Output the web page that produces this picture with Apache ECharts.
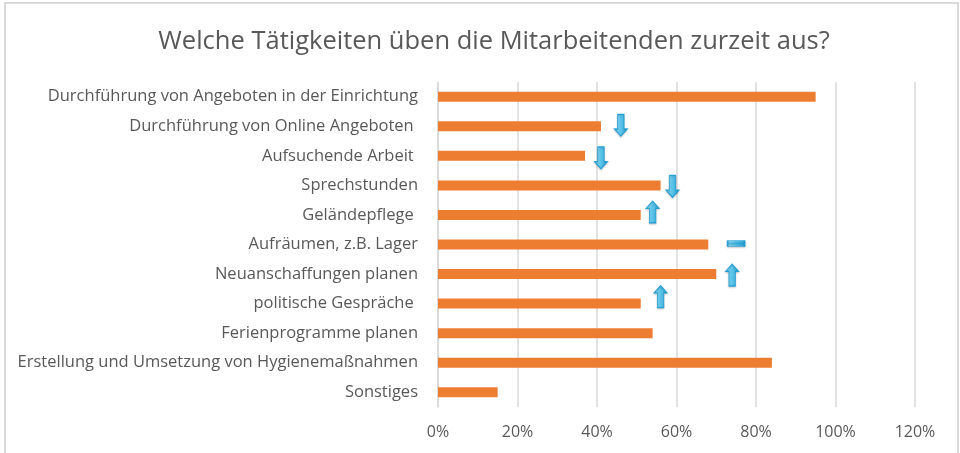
<!DOCTYPE html>
<html>
<head>
<meta charset="utf-8">
<script src="https://cdn.jsdelivr.net/npm/echarts@6/dist/echarts.min.js"></script>
<style>
    html, body { margin: 0; padding: 0; background: #fff; }
    #chart { width: 960px; height: 453px; }
</style>
</head>
<body>
<div id="chart"></div>
<script>
// Kategorien (von oben nach unten)
var categories = [
    'Durchführung von Angeboten in der Einrichtung',
    'Durchführung von Online Angeboten ',
    'Aufsuchende Arbeit ',
    'Sprechstunden',
    'Geländepflege ',
    'Aufräumen, z.B. Lager',
    'Neuanschaffungen planen',
    'politische Gespräche ',
    'Ferienprogramme planen',
    'Erstellung und Umsetzung von Hygienemaßnahmen',
    'Sonstiges'
];
// Anteile in Prozent
var values = [95, 41, 37, 56, 51, 68, 70, 51, 54, 84, 15];
// Trendpfeile: Position (Prozent) und Richtung
var arrowX = [null, 46, 41, 59, 54, 75, 74, 56, null, null, null];
var arrowDir = ['', 'down', 'down', 'down', 'up', 'equal', 'up', 'up', '', '', ''];
var xTicks = [0, 20, 40, 60, 80, 100, 120];

var FONT = 'Open Sans';
var TEXT = '#595959';
var GRID_COLOR = '#D9D9D9';

var SYMBOLS = {
    down: 'path://M3,0 L9,0 L9,14 L12,14 L6,21 L0,14 L3,14 Z',
    up: 'path://M3,21 L9,21 L9,7 L12,7 L6,0 L0,7 L3,7 Z',
    equal: 'path://M0,0 L18,0 L18,6 L0,6 Z M0,2.5 L18,2.5 L18,3.5 L0,3.5 Z'
};
var SIZES = { down: [13, 22], up: [13, 22], equal: [17, 6] };
var OFFSETS = [0, -1, 2, 1, -3, -1, 1, -7, 0, 0, 0];

var arrowData = [];
for (var i = 0; i < categories.length; i++) {
    if (arrowX[i] == null) continue;
    arrowData.push({
        value: [arrowX[i], i],
        symbol: SYMBOLS[arrowDir[i]],
        symbolSize: SIZES[arrowDir[i]],
        symbolOffset: [0, OFFSETS[i]]
    });
}

var myChart = echarts.init(document.getElementById('chart'));
var option = {
    animation: false,
    textStyle: { fontFamily: FONT },
    graphic: [
        {
            type: 'rect',
            shape: { x: 5, y: 3, width: 953, height: 470 },
            style: { fill: 'none', stroke: GRID_COLOR, lineWidth: 2 },
            silent: true
        },
        {
            type: 'text',
            x: 494, y: 42,
            style: {
                text: 'Welche Tätigkeiten üben die Mitarbeitenden zurzeit aus?',
                font: '25.5px "Open Sans"',
                fill: TEXT,
                align: 'center',
                verticalAlign: 'middle'
            }
        }
    ],
    grid: { left: 438, right: 45, top: 82, bottom: 46, containLabel: false },
    xAxis: {
        type: 'value',
        min: 0,
        max: 120,
        interval: 20,
        axisLine: { show: false },
        axisTick: { show: false },
        splitLine: { lineStyle: { color: GRID_COLOR, width: 1.5 } },
        axisLabel: {
            color: TEXT,
            fontSize: 16,
            fontFamily: FONT,
            margin: 17,
            formatter: function (v) { return xTicks.indexOf(v) >= 0 ? v + '%' : ''; }
        }
    },
    yAxis: {
        type: 'category',
        inverse: true,
        data: categories,
        axisLine: { show: true, lineStyle: { color: GRID_COLOR, width: 1.5 } },
        axisTick: { show: false },
        axisLabel: { color: TEXT, fontSize: 16.5, fontFamily: FONT, margin: 20 }
    },
    series: [
        {
            type: 'bar',
            data: values,
            barWidth: 10,
            itemStyle: { color: '#ED7D31' }
        },
        {
            type: 'scatter',
            data: arrowData,
            z: 5,
            itemStyle: {
                color: new echarts.graphic.LinearGradient(0, 0, 1, 0, [
                    { offset: 0, color: '#8FDDF8' },
                    { offset: 0.5, color: '#3CC0F0' },
                    { offset: 1, color: '#0E9FDB' }
                ]),
                borderColor: '#0A96D3',
                borderWidth: 1,
                shadowColor: 'rgba(0,0,0,0.25)',
                shadowBlur: 2,
                shadowOffsetY: 1
            }
        }
    ]
};
myChart.setOption(option);
</script>
</body>
</html>
